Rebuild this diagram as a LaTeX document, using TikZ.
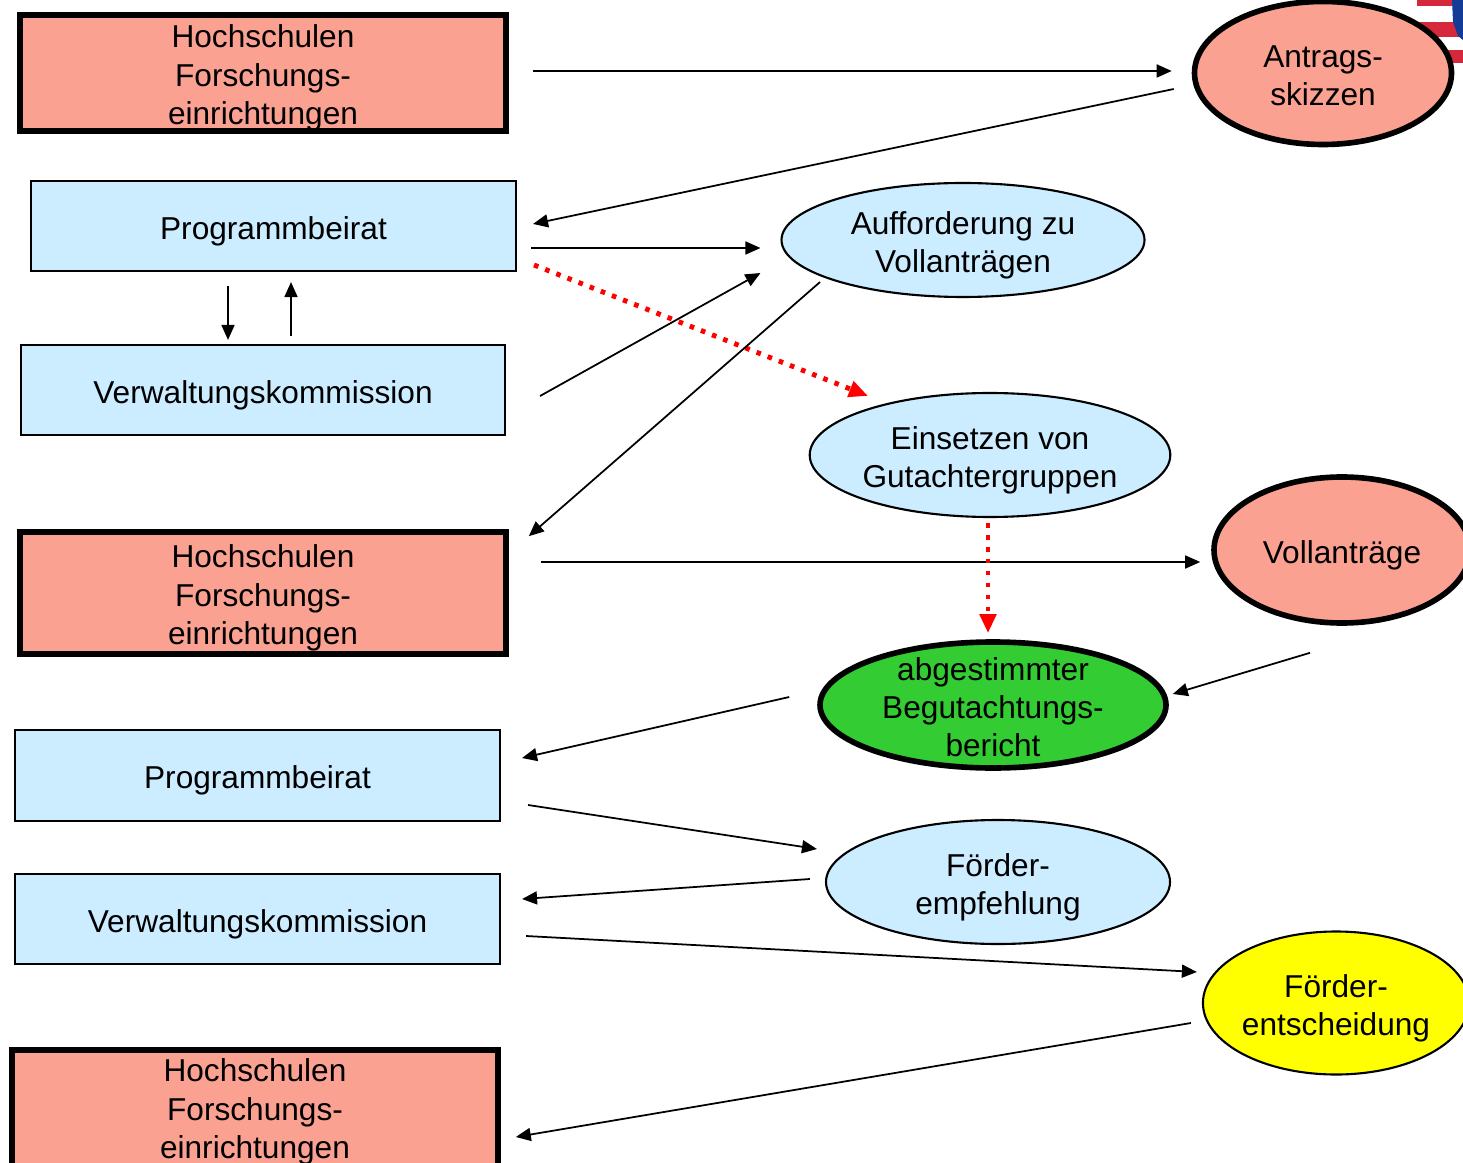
\documentclass[tikz,border=0pt]{standalone}
\usepackage{fontspec}
\setmainfont{Liberation Sans}
\usepackage{tikz}
\usetikzlibrary{arrows.meta,shapes.geometric,calc}
\definecolor{fzlachs}{RGB}{250,161,146}
\definecolor{fzblau}{RGB}{204,236,255}
\definecolor{fzgruen}{RGB}{51,204,51}
\definecolor{fzgelb}{RGB}{255,255,0}
\definecolor{fzrot}{RGB}{255,0,0}
\definecolor{fzflagrot}{RGB}{214,40,60}
\definecolor{fzflagblau}{RGB}{20,60,150}
% strut on the first line, sets the text a little lower
\newcommand{\zeile}[1][9.4pt]{\rule{0pt}{#1}}

\begin{document}
\begin{tikzpicture}[x=0.1mm, y=-0.1mm,
    every node/.style={font=\fontsize{9}{10.9}\selectfont, align=center, inner sep=0pt},
    einrichtung/.style={draw, line width=1.6pt, fill=fzlachs, minimum width=48.6mm, minimum height=12.2mm},
    gremium/.style={draw, line width=0.6pt, fill=fzblau, minimum width=48.5mm, minimum height=9mm},
    vorgang/.style={ellipse, draw, line width=0.6pt, fill=fzblau},
    ergebnis/.style={ellipse, draw, line width=1.6pt, fill=fzlachs},
    pfeil/.style={line width=0.5pt, -{Triangle[length=1.5mm, width=1.3mm]}},
    rotpfeil/.style={line width=1.4pt, fzrot, dash pattern=on 1.3pt off 2.1pt, -{Triangle[length=1.9mm, width=1.6mm]}}]
    \clip (0,0) rectangle (1463,1163);

    % flag in the corner
    \fill[fzflagrot] (1417,0) rectangle (1463,6);
    \fill[fzflagrot] (1417,22) rectangle (1463,37);
    \fill[fzflagrot] (1417,50) rectangle (1463,63);
    \fill[fzflagblau] (1452,0) -- (1463,0) -- (1463,40) -- (1458,36) -- (1453,22) -- cycle;

    % left column
    \node[einrichtung, minimum height=11.4mm] (hs1) at (263,73) {\zeile Hochschulen\\Forschungs-\\einrichtungen};
    \node[gremium] (pb1) at (273.5,226) {\zeile Programmbeirat};
    \node[gremium, minimum width=48.4mm] (vk1) at (263,390) {\zeile Verwaltungskommission};
    \node[einrichtung] (hs2) at (263,593) {\zeile Hochschulen\\Forschungs-\\einrichtungen};
    \node[gremium, minimum height=9.1mm] (pb2) at (257.5,775.5) {\zeile Programmbeirat};
    \node[gremium] (vk2) at (257.5,919) {\zeile Verwaltungskommission};
    \node[einrichtung] (hs3) at (255,1111) {\zeile[7.1pt]Hochschulen\\Forschungs-\\einrichtungen};

    % steps
    \node[ergebnis, minimum width=25.7mm, minimum height=14.3mm] (antrag) at (1323,73) {\zeile[7.9pt]Antrags-\\skizzen};
    \node[vorgang, minimum width=36.3mm, minimum height=11.4mm] (auff) at (963,240) {\zeile Aufforderung zu\\Vollanträgen};
    \node[vorgang, minimum width=35.8mm, minimum height=12.4mm] (einsetz) at (990,455) {\zeile Einsetzen von\\Gutachtergruppen};
    \node[ergebnis, minimum width=25.6mm, minimum height=14.6mm] (voll) at (1342,550) {\zeile Vollanträge};
    \node[ergebnis, fill=fzgruen, inner ysep=-2.6mm, minimum width=34.6mm, minimum height=12.6mm] (bericht) at (993,705) {\zeile[7.7pt]abgestimmter\\Begutachtungs-\\bericht};
    \node[vorgang, minimum width=34.4mm, minimum height=12.4mm] (empf) at (998,882) {\zeile Förder-\\empfehlung};
    \node[vorgang, fill=fzgelb, minimum width=25.6mm, minimum height=14.3mm] (entsch) at (1336,1003) {\zeile Förder-\\entscheidung};

    % connectors
    \draw[pfeil] ([shift={(24,-2)}]hs1.east) -- ([shift={(-20,-2)}]antrag.west);
    \draw[pfeil] ([shift={(-18,16)}]antrag.west) -- ([shift={(16,-2)}]pb1.east);
    \draw[pfeil] ([shift={(14,22)}]pb1.east) -- ([shift={(-20,8)}]auff.west);
    \draw[rotpfeil] ([shift={(17,39)}]pb1.east) -- ([shift={(-122,4)}]einsetz.north);
    \draw[pfeil] ([shift={(34,6)}]vk1.east) -- ([shift={(-20,33)}]auff.west);
    \draw[pfeil] ([shift={(-143,-16)}]auff.south) -- ([shift={(20,7)}]hs2.north east);
    \draw[pfeil] ([shift={(-45.5,14)}]pb1.south) -- ([shift={(-35,-4)}]vk1.north);
    \draw[pfeil] ([shift={(28,-8)}]vk1.north) -- ([shift={(17.5,10)}]pb1.south);
    \draw[pfeil] ([shift={(32,-31)}]hs2.east) -- ([shift={(-11,12)}]voll.west);
    \draw[rotpfeil] ([shift={(-2,5)}]einsetz.south) -- ([shift={(-5,-6)}]bericht.north);
    \draw[pfeil] ([shift={(-32,27)}]voll.south) -- ([shift={(4,-11)}]bericht.east);
    \draw[pfeil] ([shift={(-28,-8)}]bericht.west) -- ([shift={(21,-17.5)}]pb2.east);
    \draw[pfeil] ([shift={(27,29.5)}]pb2.east) -- ([shift={(-8,-33)}]empf.west);
    \draw[pfeil] ([shift={(-15,-3)}]empf.west) -- ([shift={(21,-20)}]vk2.east);
    \draw[pfeil] ([shift={(25,17)}]vk2.east) -- ([shift={(-5,-31)}]entsch.west);
    \draw[pfeil] ([shift={(-11,20)}]entsch.west) -- ([shift={(15,26)}]hs3.east);
\end{tikzpicture}
\end{document}
